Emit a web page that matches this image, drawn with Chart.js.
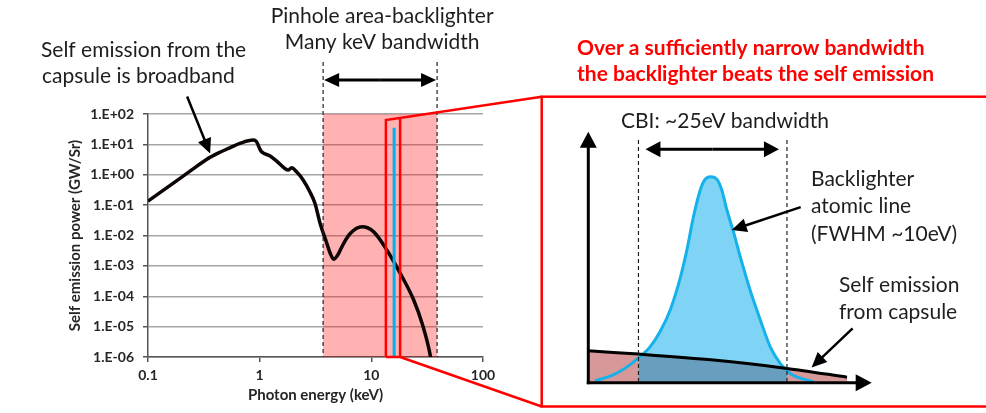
<!DOCTYPE html>
<html>
<head>
<meta charset="utf-8">
<script src="https://cdn.jsdelivr.net/npm/chart.js@4.4.0/dist/chart.umd.min.js"></script>
<style>
  html, body { margin: 0; padding: 0; background: #fff; }
  #wrap { position: relative; width: 986px; height: 413px; }
  #wrap canvas { position: absolute; left: 0; top: 0; }
</style>
</head>
<body>
<div id="wrap">
  <canvas id="spectrum" width="986" height="413"></canvas>
  <canvas id="inset" width="986" height="413"></canvas>
</div>
<script>
// left panel: capsule self emission spectrum (log-log)
const energyKeV = [0.1, 0.18, 0.25, 0.334, 0.42, 0.541, 0.665, 0.875, 0.938, 1.005, 1.04, 1.23, 1.42, 1.68, 1.80, 1.93, 2.14, 2.46, 2.82, 3.13, 3.48, 4.0, 4.29, 4.59, 4.99, 5.64, 6.47, 8.24, 10.5, 13.8, 18.2, 24.0, 28.5, 33.9, 35.5];
const selfEmission = [0.135, 0.63, 1.5, 3.2, 5.05, 7.72, 10.8, 13.9, 12.2, 7.0, 5.7, 4.2, 2.81, 1.61, 1.42, 1.69, 1.25, 0.66, 0.27, 0.113, 0.0249, 0.00545, 0.00255, 0.00166, 0.00225, 0.00545, 0.0116, 0.0193, 0.0132, 0.00328, 0.000558, 7.4e-5, 1.26e-5, 1e-6, 3e-7];
const lineEnergy = [16, 16];
const linePower = [35, 1e-6];
const yTicks = [1e-6, 1e-5, 1e-4, 1e-3, 1e-2, 1e-1, 1e0, 1e1, 1e2];
const xTicks = [0.1, 1, 10, 100];
const pinholeBand = [3.7, 38.8];
const cbiWindow = [13.5, 18.1];
const cbiWindowTop = 63;

// right panel: schematic, arbitrary units
const profileX = [2.4, 8.8, 14.7, 17.7, 18.9, 21.8, 25.3, 28.9, 32.4, 34.8, 37.1, 39.5, 41.2, 43.2, 45.4, 47.1, 48.9, 51.2, 53.6, 57.1, 60.7, 64.2, 67.7, 70.1, 71.2, 75.9, 79.5];
const profileY = [0.8, 3.1, 7.1, 9.9, 11.0, 14.3, 20.3, 29.0, 41.6, 52.9, 66.1, 76.8, 81.0, 82.1, 81.0, 76.8, 68.8, 60.2, 50.2, 36.9, 25.0, 14.3, 7.7, 4.9, 3.7, 1.4, 0.4];
const capsuleX = [0, 17.7, 44.2, 70.1, 91.3];
const capsuleY = [12.7, 11.4, 9.0, 5.7, 2.2];
const cbiBand = [17.7, 70.1];

const pts = (xs, ys) => xs.map((v, i) => ({x: v, y: ys[i]}));
const inBand = (xs, ys) => pts(xs, ys).filter(p => p.x >= cbiBand[0] && p.x <= cbiBand[1]);

function expLabel(v) {
  const e = Math.round(Math.log10(v));
  return '1.E' + (e < 0 ? '-' : '+') + String(Math.abs(e)).padStart(2, '0');
}

function arrowTo(ctx, x1, y1, x2, y2, len, half) {
  const a = Math.atan2(y2 - y1, x2 - x1);
  const c = Math.cos(a), s = Math.sin(a);
  ctx.beginPath();
  ctx.moveTo(x1, y1);
  ctx.lineTo(x2 - len * 0.7 * c, y2 - len * 0.7 * s);
  ctx.stroke();
  ctx.beginPath();
  ctx.moveTo(x2, y2);
  ctx.lineTo(x2 - len * c + half * s, y2 - len * s - half * c);
  ctx.lineTo(x2 - len * c - half * s, y2 - len * s + half * c);
  ctx.closePath();
  ctx.fill();
}

function dashed(ctx, x, y1, y2) {
  ctx.save();
  ctx.setLineDash([4, 3]);
  ctx.lineWidth = 1.2;
  ctx.strokeStyle = '#222';
  ctx.beginPath();
  ctx.moveTo(x, y1);
  ctx.lineTo(x, y2);
  ctx.stroke();
  ctx.restore();
}

const textColor = '#1e1e1e';

const spectrumDecor = {
  id: 'spectrumDecor',
  beforeDatasetsDraw(chart) {
    const {ctx, chartArea: a, scales: {x}} = chart;
    const x0 = x.getPixelForValue(pinholeBand[0]);
    const x1 = x.getPixelForValue(pinholeBand[1]);
    ctx.save();
    ctx.fillStyle = 'rgba(255, 0, 0, 0.3)';
    ctx.fillRect(x0, a.top, x1 - x0, a.bottom - a.top);
    ctx.restore();
  },
  afterDatasetsDraw(chart) {
    const {ctx, chartArea: a, scales: {x, y}} = chart;
    const x0 = x.getPixelForValue(pinholeBand[0]);
    const x1 = x.getPixelForValue(pinholeBand[1]);
    dashed(ctx, x0, 62, a.bottom);
    dashed(ctx, x1, 62, a.bottom);

    ctx.save();
    ctx.strokeStyle = '#000';
    ctx.fillStyle = '#000';
    ctx.lineWidth = 3;
    arrowTo(ctx, (x0 + x1) / 2, 80, x0 + 1, 80, 15, 7);
    arrowTo(ctx, (x0 + x1) / 2, 80, x1 - 1, 80, 15, 7);
    ctx.lineWidth = 2.5;
    const tipX = x.getPixelForValue(0.36), tipY = y.getPixelForValue(5);
    arrowTo(ctx, tipX - 23, tipY - 57, tipX, tipY, 15, 7);
    ctx.restore();

    // zoom window and connectors to the inset
    const rl = x.getPixelForValue(cbiWindow[0]);
    const rr = x.getPixelForValue(cbiWindow[1]);
    const rt = y.getPixelForValue(cbiWindowTop);
    const boxL = 541.7, boxT = 96.7, boxB = 406.5;
    const slope = (boxT - rt) / (boxL - rl);
    ctx.save();
    ctx.strokeStyle = '#ff0000';
    ctx.lineWidth = 2.5;
    ctx.beginPath();
    ctx.moveTo(rl, a.bottom);
    ctx.lineTo(rl, rt);
    ctx.lineTo(boxL, boxT);
    ctx.moveTo(rr, rt + slope * (rr - rl));
    ctx.lineTo(rr, a.bottom);
    ctx.lineTo(rl, a.bottom);
    ctx.moveTo(rr, a.bottom);
    ctx.lineTo(boxL, boxB);
    ctx.stroke();
    ctx.strokeRect(boxL, boxT, 500, boxB - boxT);
    ctx.restore();

    ctx.save();
    ctx.textBaseline = 'middle';
    ctx.fillStyle = textColor;
    ctx.font = '21px Lato';
    ctx.textAlign = 'left';
    ctx.fillText('Self emission from the', 41, 50);
    ctx.fillText('capsule is broadband', 42, 76);
    ctx.textAlign = 'center';
    ctx.fillText('Pinhole area-backlighter', (x0 + x1) / 2 + 2, 16);
    ctx.fillText('Many keV bandwidth', (x0 + x1) / 2 + 2, 42);
    ctx.textAlign = 'left';
    ctx.fillStyle = '#ff0000';
    ctx.font = 'bold 21px Lato';
    ctx.fillText('Over a sufficiently narrow bandwidth', 577, 48);
    ctx.fillText('the backlighter beats the self emission', 577, 74);
    ctx.restore();
  }
};

new Chart(document.getElementById('spectrum'), {
  type: 'line',
  data: {
    datasets: [
      {
        data: pts(lineEnergy, linePower),
        borderColor: '#00b0f0',
        borderWidth: 3,
        pointRadius: 0,
        tension: 0
      },
      {
        data: pts(energyKeV, selfEmission),
        borderColor: '#0d0404',
        borderWidth: 3.5,
        pointRadius: 0,
        cubicInterpolationMode: 'monotone'
      }
    ]
  },
  options: {
    responsive: false,
    animation: false,
    layout: {padding: {left: 62, top: 114, right: 503, bottom: 5}},
    plugins: {legend: {display: false}, tooltip: {enabled: false}},
    scales: {
      x: {
        type: 'logarithmic',
        min: 0.1,
        max: 100,
        afterBuildTicks: s => { s.ticks = xTicks.map(v => ({value: v})); },
        afterFit: s => { s.height = 51; },
        ticks: {
          callback: v => String(v),
          font: {family: 'Lato', size: 14, weight: 'bold'},
          color: '#262626',
          padding: 5,
          maxRotation: 0
        },
        grid: {drawOnChartArea: false, tickLength: 5, tickColor: '#555', lineWidth: 1.5},
        border: {color: '#555', width: 1.5},
        title: {
          display: true,
          text: 'Photon energy (keV)',
          font: {family: 'Lato', size: 15, weight: 'bold'},
          color: '#262626'
        }
      },
      y: {
        type: 'logarithmic',
        min: 1e-6,
        max: 1e2,
        afterBuildTicks: s => { s.ticks = yTicks.map(v => ({value: v})); },
        afterFit: s => { s.width = 86; },
        ticks: {
          callback: v => expLabel(v),
          font: {family: 'Lato', size: 14, weight: 'bold'},
          color: '#262626',
          padding: 9
        },
        grid: {color: '#a6a6a6', lineWidth: 1.5, tickLength: 5, tickColor: '#555'},
        border: {color: '#555', width: 1.5},
        title: {
          display: true,
          text: 'Self emission power (GW/Sr)',
          font: {family: 'Lato', size: 15, weight: 'bold'},
          color: '#262626'
        }
      }
    }
  },
  plugins: [spectrumDecor]
});

const insetDecor = {
  id: 'insetDecor',
  afterDatasetsDraw(chart) {
    const {ctx, chartArea: a, scales: {x, y}} = chart;
    const b0 = x.getPixelForValue(cbiBand[0]);
    const b1 = x.getPixelForValue(cbiBand[1]);
    dashed(ctx, b0, 140, a.bottom);
    dashed(ctx, b1, 140, a.bottom);

    ctx.save();
    ctx.strokeStyle = '#000';
    ctx.fillStyle = '#000';
    ctx.lineWidth = 3;
    const ox = x.getPixelForValue(0), oy = y.getPixelForValue(0);
    arrowTo(ctx, ox, oy + 1.5, ox, a.top, 16, 8.5);
    arrowTo(ctx, ox - 1.5, oy, a.right, oy, 16, 8.5);
    arrowTo(ctx, (b0 + b1) / 2, 149.3, b0 + 7, 149.3, 15, 8);
    arrowTo(ctx, (b0 + b1) / 2, 149.3, b1 - 8, 149.3, 15, 8);
    ctx.lineWidth = 2.5;
    const t1x = x.getPixelForValue(50.6), t1y = y.getPixelForValue(60.8);
    arrowTo(ctx, t1x + 69, t1y - 23, t1x, t1y, 15, 7);
    const t2x = x.getPixelForValue(78.8), t2y = y.getPixelForValue(6.1);
    arrowTo(ctx, t2x + 41, t2y - 39, t2x, t2y, 15, 7);
    ctx.restore();

    ctx.save();
    ctx.textBaseline = 'middle';
    ctx.fillStyle = textColor;
    ctx.font = '21px Lato';
    ctx.textAlign = 'center';
    ctx.fillText('CBI: ~25eV bandwidth', 725, 121);
    ctx.textAlign = 'left';
    ctx.fillText('Backlighter', 811, 179);
    ctx.fillText('atomic line', 811, 206);
    ctx.fillText('(FWHM ~10eV)', 811, 234);
    ctx.fillText('Self emission', 839, 285);
    ctx.fillText('from capsule', 839, 312);
    ctx.restore();
  }
};

new Chart(document.getElementById('inset'), {
  type: 'line',
  data: {
    datasets: [
      {
        data: pts(capsuleX, capsuleY),
        borderColor: '#000',
        borderWidth: 3,
        pointRadius: 0,
        tension: 0.3
      },
      {
        data: pts(profileX, profileY),
        borderColor: '#14b1ea',
        borderWidth: 3,
        pointRadius: 0,
        cubicInterpolationMode: 'monotone'
      },
      {
        data: inBand(capsuleX, capsuleY),
        borderWidth: 0,
        backgroundColor: '#6a9ebf',
        fill: 'origin',
        pointRadius: 0,
        tension: 0.3
      },
      {
        data: inBand(profileX, profileY),
        borderWidth: 0,
        backgroundColor: '#7fd4f5',
        fill: 'origin',
        pointRadius: 0,
        cubicInterpolationMode: 'monotone'
      },
      {
        data: pts(capsuleX, capsuleY),
        borderWidth: 0,
        backgroundColor: '#d69898',
        fill: 'origin',
        pointRadius: 0,
        tension: 0.3
      }
    ]
  },
  options: {
    responsive: false,
    animation: false,
    layout: {padding: {left: 588.3, top: 131.7, right: 114.3, bottom: 30.3}},
    plugins: {legend: {display: false}, tooltip: {enabled: false}},
    scales: {
      x: {type: 'linear', min: 0, max: 100, display: false},
      y: {type: 'linear', min: 0, max: 100, display: false}
    }
  },
  plugins: [insetDecor]
});
</script>
</body>
</html>
